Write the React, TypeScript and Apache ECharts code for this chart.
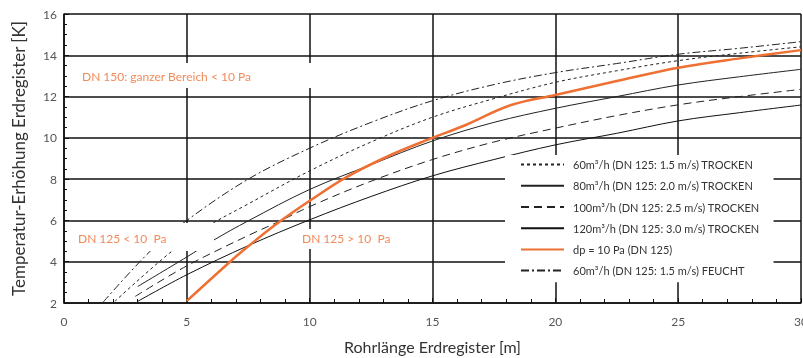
import React, { useEffect, useRef } from "react";
import * as echarts from "echarts";

const seriesNames = [
  "60m³/h (DN 125: 1.5 m/s) TROCKEN",
  "80m³/h (DN 125: 2.0 m/s) TROCKEN",
  "100m³/h (DN 125: 2.5 m/s) TROCKEN",
  "120m³/h (DN 125: 3.0 m/s) TROCKEN",
  "dp = 10 Pa (DN 125)",
  "60m³/h (DN 125: 1.5 m/s) FEUCHT",
];

const x60t = [2.07, 4.3, 5.8, 7.5, 10, 12.5, 15, 17.5, 20, 22.5, 25, 27.5, 30];
const y60t = [2.08, 4.42, 5.68, 6.8, 8.4, 9.8, 11.0, 11.9, 12.69, 13.25, 13.74, 14.1, 14.41];

const x80t = [3.0, 5, 6.1, 7.5, 10, 12.5, 15, 17.5, 20, 22.5, 25, 27.5, 30];
const y80t = [2.8, 4.23, 5.05, 5.98, 7.5, 8.7, 9.85, 10.75, 11.43, 12.0, 12.56, 12.96, 13.32];

const x100t = [2.9, 5, 7.5, 8.7, 10, 12.5, 15, 17.5, 20, 22.5, 25, 27.5, 30];
const y100t = [2.32, 3.8, 5.27, 5.92, 6.67, 7.9, 8.95, 9.8, 10.47, 11.08, 11.6, 12.0, 12.35];

const x120t = [3.0, 5, 7.5, 10, 12.5, 15, 17.5, 20, 22.5, 25, 27.5, 30];
const y120t = [2.08, 3.37, 4.78, 6.03, 7.16, 8.16, 8.95, 9.66, 10.22, 10.82, 11.22, 11.59];

const xDp = [5, 6.76, 7.5, 8.7, 10, 11.5, 13.3, 15, 16.2, 18.2, 20, 22.5, 25, 27.5, 30];
const yDp = [2.1, 4.0, 4.75, 5.87, 6.95, 8.1, 9.17, 10.0, 10.55, 11.59, 12.08, 12.75, 13.4, 13.85, 14.25];

const x60f = [1.6, 3.5, 5, 7.5, 10, 12.5, 15, 17.5, 20, 22.5, 25, 27.5, 30];
const y60f = [2.05, 4.5, 6.0, 8.0, 9.5, 10.75, 11.8, 12.58, 13.16, 13.6, 14.05, 14.34, 14.66];

const xTicks = [0, 5, 10, 15, 20, 25, 30];
const yTicks = [2, 4, 6, 8, 10, 12, 14, 16];

const pair = (xs: number[], ys: number[]) => xs.map((x, i) => [x, ys[i]]);

const FONT = "Lato";
const ORANGE = "#ee7032";
const ORANGE_TEXT = "#f28b5a";

export default function App() {
  const ref = useRef<HTMLDivElement>(null);
  useEffect(() => {
    if (!ref.current) return;
    const chart = echarts.init(ref.current, undefined, { renderer: "svg" });
    const lineSeries = (
      name: string,
      data: number[][],
      color: string,
      width: number,
      type: any
    ) => ({
      name,
      type: "line",
      data,
      symbol: "none",
      smooth: 0.35,
      lineStyle: { color, width, type },
      itemStyle: { color },
      z: 3,
    });
    chart.setOption({
      animation: false,
      textStyle: { fontFamily: FONT },
      grid: { left: 64, right: 2, top: 14, bottom: 55, outerBoundsMode: "none", containLabel: false },
      xAxis: {
        type: "value",
        min: xTicks[0],
        max: xTicks[xTicks.length - 1],
        interval: 5,
        name: "Rohrlänge Erdregister [m]",
        nameLocation: "middle",
        nameGap: 35,
        nameTextStyle: { fontSize: 16, color: "#333", fontFamily: FONT },
        axisLine: { lineStyle: { color: "#111", width: 1.5 } },
        axisTick: { show: true, inside: true, length: 5, lineStyle: { color: "#111" } },
        minorTick: { show: true, splitNumber: 5, length: 4, lineStyle: { color: "#111", width: 1 } },
        axisLabel: { color: "#555", fontSize: 12, margin: 12, fontFamily: FONT },
        splitLine: { show: true, lineStyle: { color: "#111", width: 1.5 } },
      },
      yAxis: {
        type: "value",
        min: yTicks[0],
        max: yTicks[yTicks.length - 1],
        interval: 2,
        name: "Temperatur-Erhöhung Erdregister [K]",
        nameLocation: "middle",
        nameGap: 37,
        nameTextStyle: { fontSize: 17, color: "#333", fontFamily: FONT },
        axisLine: { show: true, lineStyle: { color: "#111", width: 1.5 } },
        axisTick: { show: true, inside: true, length: 5, lineStyle: { color: "#111" } },
        minorTick: { show: true, splitNumber: 4, length: 3, lineStyle: { color: "#111", width: 1 } },
        axisLabel: { color: "#555", fontSize: 12, margin: 7, fontFamily: FONT },
        splitLine: { show: true, lineStyle: { color: "#111", width: 1.5 } },
      },
      legend: {
        orient: "vertical",
        left: 505,
        top: 155,
        padding: [4, 14, 6, 15],
        backgroundColor: "#fff",
        itemWidth: 43,
        itemHeight: 14,
        itemGap: 10,
        itemStyle: { opacity: 0 },
        textStyle: { fontSize: 11, color: "#333", fontFamily: FONT, padding: [0, 0, 0, 4] },
        data: seriesNames,
      },
      graphic: [
        { type: "rect", z: 10, shape: { x: 70, y: 63, width: 248, height: 25 }, style: { fill: "#fff" } },
        { type: "text", z: 11, x: 82, y: 76, style: { text: "DN 150: ganzer Bereich < 10 Pa", fill: ORANGE_TEXT, fontSize: 12, fontFamily: FONT, verticalAlign: "middle" } },
        { type: "rect", z: 10, shape: { x: 70, y: 223, width: 144, height: 28 }, style: { fill: "#fff" } },
        { type: "text", z: 11, x: 78, y: 238, style: { text: "DN 125 < 10  Pa", fill: ORANGE_TEXT, fontSize: 12, fontFamily: FONT, verticalAlign: "middle" } },
        { type: "rect", z: 10, shape: { x: 297, y: 229, width: 106, height: 20 }, style: { fill: "#fff" } },
        { type: "text", z: 11, x: 302, y: 238, style: { text: "DN 125 > 10  Pa", fill: ORANGE_TEXT, fontSize: 12, fontFamily: FONT, verticalAlign: "middle" } },
      ],
      series: [
        lineSeries(seriesNames[0], pair(x60t, y60t), "#222", 1, [3, 3]),
        lineSeries(seriesNames[1], pair(x80t, y80t), "#222", 1, "solid"),
        lineSeries(seriesNames[2], pair(x100t, y100t), "#222", 1, [8, 5]),
        lineSeries(seriesNames[3], pair(x120t, y120t), "#111", 1, "solid"),
        lineSeries(seriesNames[4], pair(xDp, yDp), ORANGE, 2.5, "solid"),
        lineSeries(seriesNames[5], pair(x60f, y60f), "#222", 1, [8, 3, 2, 3]),
      ],
    });
    return () => chart.dispose();
  }, []);
  return (
    <div
      ref={ref}
      style={{ position: "fixed", left: 0, top: 0, width: 803, height: 358 }}
    />
  );
}
